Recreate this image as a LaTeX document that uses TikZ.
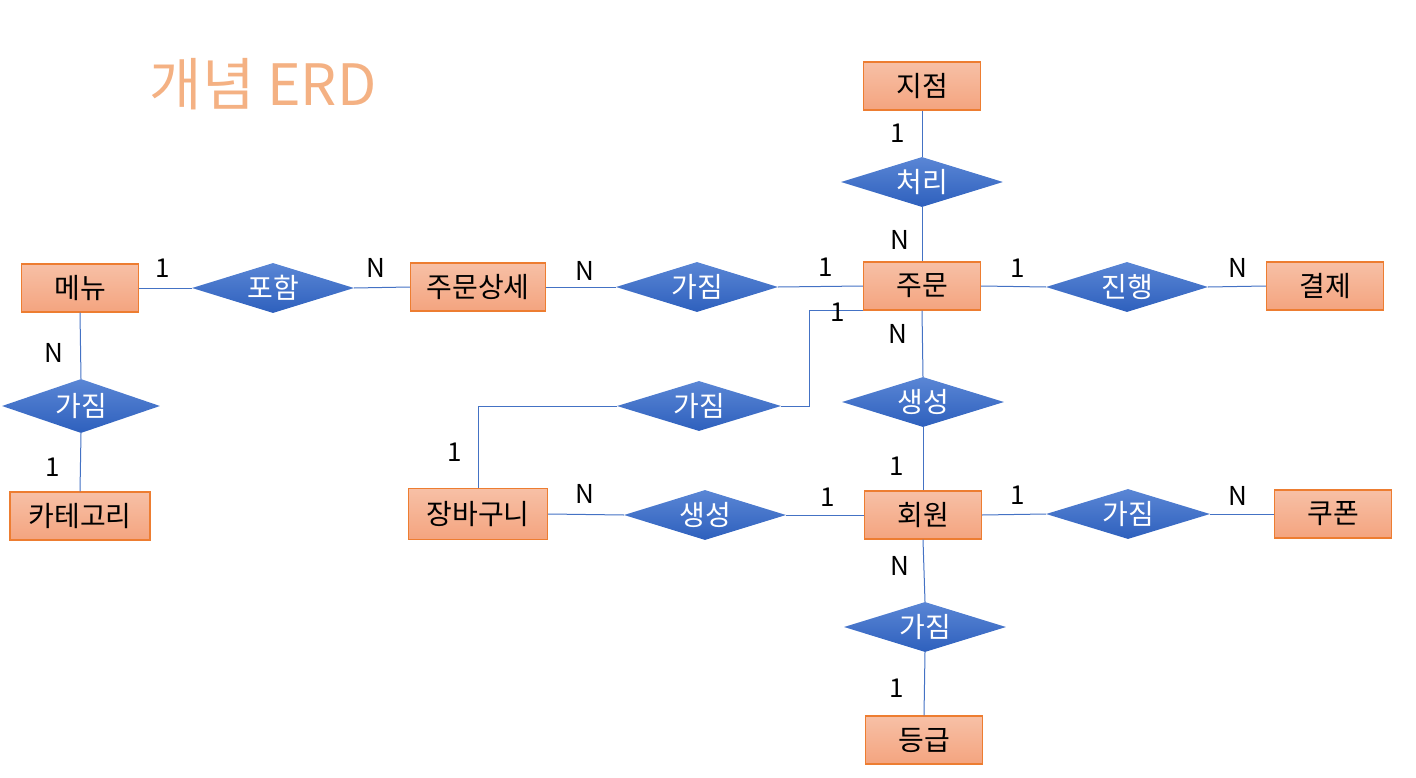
\documentclass[tikz,border=0pt]{standalone}
\usepackage{fontspec}
\setmainfont{Noto Sans CJK KR}
\usetikzlibrary{shapes.geometric}
\definecolor{linec}{HTML}{4472C4}
\definecolor{boxedge}{HTML}{ED7D31}
\definecolor{boxtop}{HTML}{F7C0A6}
\definecolor{boxbot}{HTML}{F4A47F}
\definecolor{diatop}{HTML}{5A86D5}
\definecolor{diabot}{HTML}{2E60BD}
\definecolor{titlec}{HTML}{F4B183}
\tikzset{
  entity/.style={rectangle, draw=boxedge, line width=1.3pt, top color=boxtop, bottom color=boxbot,
    minimum width=117pt, minimum height=48pt, inner sep=0pt, font=\fontsize{28}{30}\selectfont},
  relation/.style={diamond, shape aspect=3.2, top color=diatop, bottom color=diabot, draw=none,
    minimum width=162pt, minimum height=50pt, inner sep=0pt, text=white, font=\fontsize{28}{30}\selectfont},
  card/.style={font=\fontsize{26}{28}\selectfont, inner sep=0pt},
  conn/.style={draw=linec, line width=1pt}
}
\begin{document}
\begin{tikzpicture}[x=1pt,y=-1pt]
\useasboundingbox (0,0) rectangle (1416,778);
\node[text=titlec, font=\fontsize{57}{62}\selectfont, anchor=center] (title) at (263,84) {개념 ERD};

% entities
\node[entity] (jijeom) at (922,86) {지점};
\node[entity] (jumun) at (922,286) {주문};
\node[entity] (gyolje) at (1325,286) {결제};
\node[entity, minimum width=135pt] (sangse) at (478,287) {주문상세};
\node[entity] (menu) at (80,288) {메뉴};
\node[entity, minimum width=140pt] (category) at (80,516) {카테고리};
\node[entity, minimum width=139pt, minimum height=51pt] (basket) at (478,514) {장바구니};
\node[entity] (member) at (923,515) {회원};
\node[entity] (coupon) at (1333,514) {쿠폰};
\node[entity] (grade) at (924,740) {등급};

% relations
\node[relation] (cheori) at (922,182) {처리};
\node[relation] (poham) at (273,288) {포함};
\node[relation] (gajim1) at (697,287) {가짐};
\node[relation] (jinhaeng) at (1127,287) {진행};
\node[relation, minimum width=158pt, minimum height=54pt] (gajimM) at (81,406) {가짐};
\node[relation, minimum width=164pt] (gajimB) at (699,406) {가짐};
\node[relation] (saengA) at (923,402) {생성};
\node[relation] (saengB) at (705,515) {생성};
\node[relation, minimum width=164pt] (gajimC) at (1128,514) {가짐};
\node[relation] (gajimG) at (925,627) {가짐};

% connectors
\draw[conn] (jijeom.south) -- (cheori.north);
\draw[conn] (cheori.south) -- (jumun.north);
\draw[conn] (menu.east) -- (poham.west);
\draw[conn] (poham.east) -- (sangse.west);
\draw[conn] (sangse.east) -- (gajim1.west);
\draw[conn] (gajim1.east) -- (jumun.west);
\draw[conn] (jumun.east) -- (jinhaeng.west);
\draw[conn] (jinhaeng.east) -- (gyolje.west);
\draw[conn] (menu.south) -- (gajimM.north);
\draw[conn] (gajimM.south) -- (category.north);
\draw[conn] (jumun.south) -- (saengA.north);
\draw[conn] (saengA.south) -- (member.north);
\coordinate (bend) at (809,406);
\draw[conn] (gajimB.east) -- (bend) |- (jumun.south west);
\draw[conn] (gajimB.west) -| (basket.north);
\draw[conn] (basket.east) -- (saengB.west);
\draw[conn] (saengB.east) -- (member.west);
\draw[conn] (member.east) -- (gajimC.west);
\draw[conn] (gajimC.east) -- (coupon.west);
\draw[conn] (member.south) -- (gajimG.north);
\draw[conn] (gajimG.south) -- (grade.north);

% cardinalities
\node[card] (c1) at (898,133) {1};
\node[card] (c2) at (900,240) {N};
\node[card] (c3) at (163,268) {1};
\node[card] (c4) at (376,268) {N};
\node[card] (c5) at (585,271) {N};
\node[card] (c6) at (826,267) {1};
\node[card] (c7) at (1018,268) {1};
\node[card] (c8) at (1238,268) {N};
\node[card] (c9) at (838,312) {1};
\node[card] (c10) at (898,334) {N};
\node[card] (c11) at (54,353) {N};
\node[card] (c12) at (53,467) {1};
\node[card] (c13) at (455,452) {1};
\node[card] (c14) at (585,494) {N};
\node[card] (c15) at (828,497) {1};
\node[card] (c16) at (897,466) {1};
\node[card] (c17) at (1018,495) {1};
\node[card] (c18) at (1238,496) {N};
\node[card] (c19) at (900,566) {N};
\node[card] (c20) at (897,688) {1};
\end{tikzpicture}
\end{document}
